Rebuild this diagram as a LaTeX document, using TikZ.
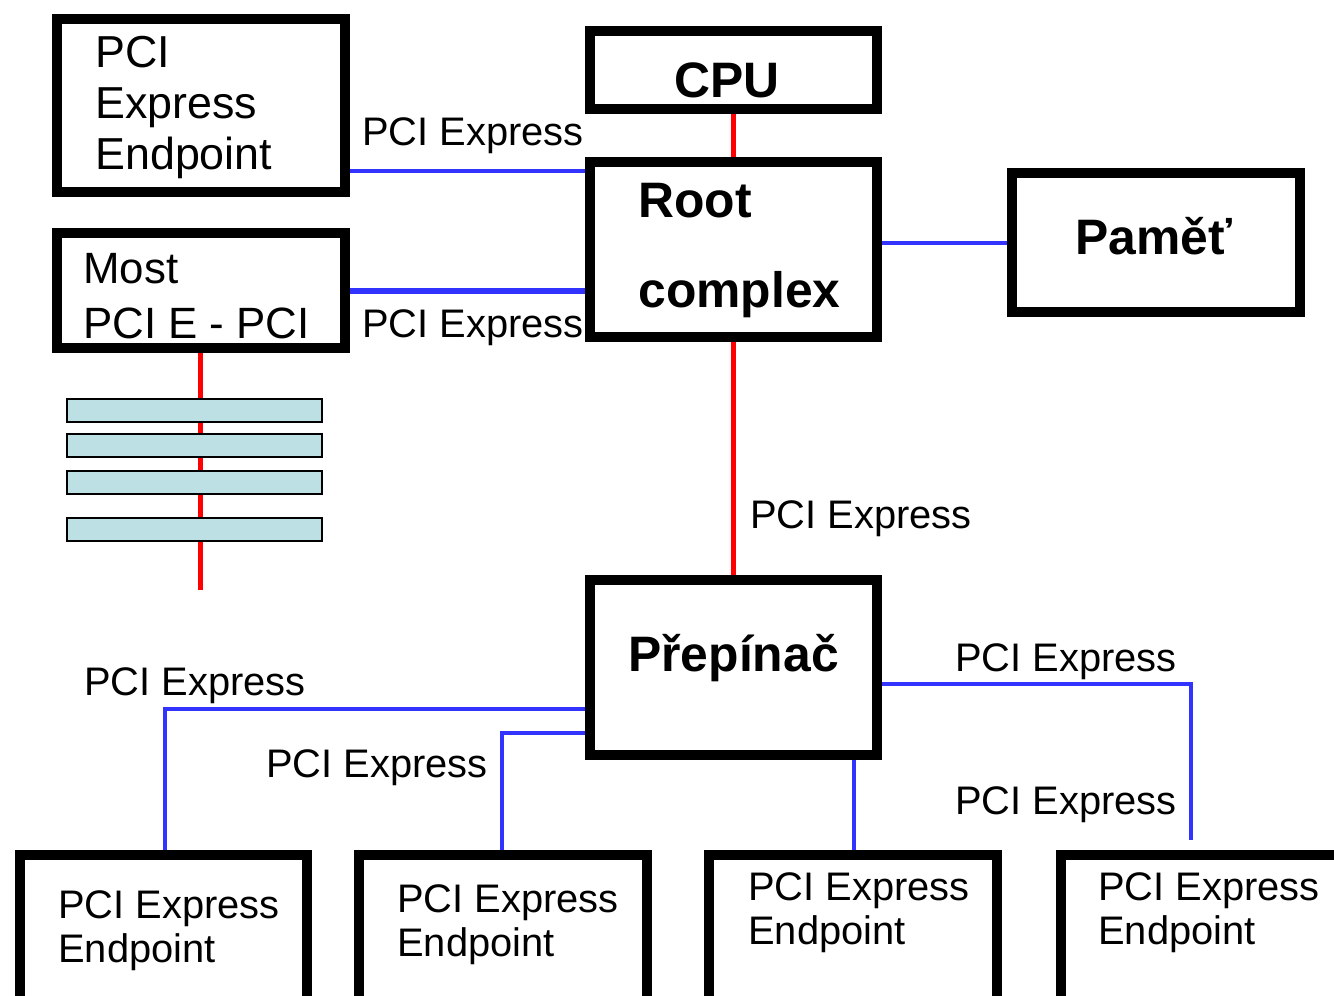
\documentclass[tikz,border=0pt]{standalone}
\usepackage{fontspec}
\setmainfont{Liberation Sans}
\definecolor{pcieblue}{RGB}{51,51,255}
\definecolor{slotfill}{RGB}{188,224,227}
\begin{document}
\begin{tikzpicture}[x=0.02cm,y=-0.02cm,
    blok/.style={draw,line width=0.2cm,inner sep=0,outer sep=0.1cm,minimum width=5.76cm},
    slot/.style={draw,fill=slotfill,line width=0.04cm,inner sep=0,minimum width=5.1cm,minimum height=0.46cm},
    pcie/.style={pcieblue,line width=0.08cm},
    bus/.style={red,line width=0.1cm},
    lbl/.style={inner sep=0,anchor=base west,align=left,font=\fontsize{22.68}{24.94}\selectfont},
    midlbl/.style={lbl,font=\fontsize{25.5}{28.9}\selectfont},
    biglbl/.style={lbl,font=\bfseries\fontsize{28.35}{51}\selectfont}]
    \useasboundingbox (0,0) rectangle (1334,995);
    \clip (0,0) rectangle (1334,995);

    % Boxes %
    \node[blok,minimum height=3.46cm] (eptl) at (201,105.5) {};
    \node[blok,minimum height=2.30cm] (most) at (201,290.5) {};
    \node[blok,minimum width=5.74cm,minimum height=1.56cm] (cpu) at (733.5,70) {};
    \node[blok,minimum width=5.74cm,minimum height=3.50cm] (root) at (733.5,249.5) {};
    \node[blok,minimum height=2.78cm] (mem) at (1156,242.5) {};
    \node[blok,minimum width=5.74cm,minimum height=3.50cm] (sw) at (733.5,667.5) {};
    \node[blok,minimum height=3cm] (ep1) at (163.5,930) {};
    \node[blok,minimum height=3cm] (ep2) at (503,930) {};
    \node[blok,minimum height=3cm] (ep3) at (853,930) {};
    \node[blok,minimum height=3cm] (ep4) at (1205,930) {};

    % Box texts (base = last line) %
    \node[midlbl] (eptltxt) at (95,169) {PCI\\Express\\Endpoint};
    \node[lbl,font=\fontsize{24.94}{31.2}\selectfont] (mosttxt) at (83,338) {Most\\PCI E - PCI};
    \node[biglbl] (cputxt) at (674,97) {CPU};
    \node[biglbl] (roottxt) at (638,307) {Root\\complex};
    \node[biglbl] (memtxt) at (1075,254) {Paměť};
    \node[biglbl] (swtxt) at (628,671) {Přepínač};
    \node[lbl] (ep1txt) at (58,962) {PCI Express\\Endpoint};
    \node[lbl] (ep2txt) at (397,956) {PCI Express\\Endpoint};
    \node[lbl] (ep3txt) at (748,944) {PCI Express\\Endpoint};
    \node[lbl] (ep4txt) at (1098,944) {PCI Express\\Endpoint};

    % Links %
    \draw[pcie] (eptl.east |- 0,171) -- (root.west |- 0,171);
    \draw[pcie,line width=0.12cm] (most.east |- 0,291) -- (root.west |- 0,291);
    \draw[pcie] (root.east |- 0,243) -- (mem.west |- 0,243);
    \draw[bus] (cpu.south) -- (root.north);
    \draw[bus] (root.south) -- (sw.north);
    \coordinate (ep4end) at (1191,840);
    \draw[pcie] (sw.east |- 0,684) -| (ep4end);
    \draw[pcie] (sw.south -| 854,0) -- (ep3.north -| 854,0);
    \draw[pcie] (sw.west |- 0,709) -| (ep1.north -| 165,0);
    \draw[pcie] (sw.west |- 0,733) -| (ep2.north -| 502,0);

    \node[lbl] (l1) at (362,145) {PCI Express};
    \node[lbl] (l2) at (362,337) {PCI Express};
    \node[lbl] (l3) at (750,528) {PCI Express};
    \node[lbl] (l4) at (84,695) {PCI Express};
    \node[lbl] (l5) at (266,777) {PCI Express};
    \node[lbl] (l6) at (955,671) {PCI Express};
    \node[lbl] (l7) at (955,814) {PCI Express};

    % PCI bus %
    \coordinate (busend) at (200,590);
    \draw[bus] (most.south -| 200,0) -- (busend);
    \foreach \y [count=\i] in {410,445,482.5,529}
        \node[slot] (slot\i) at (194.5,\y) {};
\end{tikzpicture}
\end{document}
